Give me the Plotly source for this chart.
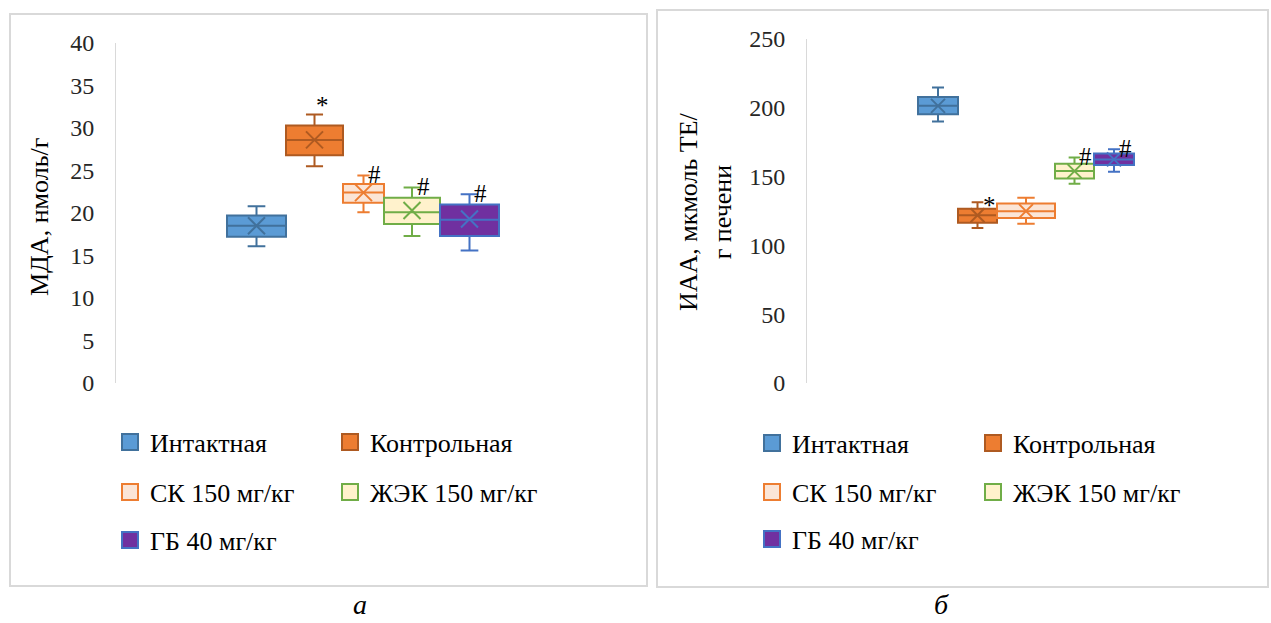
import plotly.graph_objects as go

W, H = 1271, 623
FONT = '"Liberation Serif", "Times New Roman", "DejaVu Serif", serif'

groups = ["Интактная", "Контрольная", "СК 150 мг/кг", "ЖЭК 150 мг/кг", "ГБ 40 мг/кг"]

# МДА, нмоль/г
mda_low = [16.1, 25.5, 20.1, 17.3, 15.6]
mda_q1 = [17.2, 26.8, 21.2, 18.7, 17.3]
mda_med = [18.5, 28.6, 22.4, 20.1, 19.2]
mda_q3 = [19.7, 30.3, 23.4, 21.8, 21.0]
mda_high = [20.8, 31.6, 24.4, 23.0, 22.2]
mda_mean = [18.5, 28.6, 22.4, 20.3, 19.3]
mda_sig = ["", "*", "#", "#", "#"]
mda_ticks = [0, 5, 10, 15, 20, 25, 30, 35, 40]

# ИАА, мкмоль ТЕ/г печени
iaa_low = [190.0, 112.7, 115.7, 144.8, 153.6]
iaa_q1 = [195.3, 116.4, 120.0, 148.7, 158.4]
iaa_med = [201.4, 121.9, 124.9, 154.0, 162.5]
iaa_q3 = [207.9, 126.6, 130.5, 159.4, 166.7]
iaa_high = [214.8, 131.4, 134.6, 163.8, 169.8]
iaa_mean = [201.4, 121.9, 124.9, 154.0, 162.5]
iaa_sig = ["", "*", "", "#", "#"]
iaa_ticks = [0, 50, 100, 150, 200, 250]

fills = ["#5B9BD5", "#ED7D31", "#FBE5D6", "#FFF2CC", "#7030A0"]
edges = ["#41719C", "#AE5A21", "#ED7D31", "#70AD47", "#4472C4"]


def px(x):
    return x / W


def py(y):
    return 1 - y / H


panels = [
    dict(xa="x", ya="y", xdom=(116, 640), ydom=(383, 43), span=524, start=111,
         widths=[59, 57, 41, 56, 59], xsize=17,
         low=mda_low, q1=mda_q1, med=mda_med, q3=mda_q3, high=mda_high,
         mean=mda_mean, sig=mda_sig, ticks=mda_ticks, yrange=[0, 40],
         legends=["legend", "legend2", "legend3"], legend_x=110,
         legend_rows=[442, 492, 540], entry=175, star_shift=(8, 9),
         title="МДА, нмоль/г", title_pos=(40, 217),
         frame=(10, 14, 647, 586), label="а", label_pos=(360, 622)),
    dict(xa="x2", ya="y2", xdom=(807, 1260), ydom=(383, 39), span=453, start=111,
         widths=[40, 39, 58, 39, 40], xsize=14,
         low=iaa_low, q1=iaa_q1, med=iaa_med, q3=iaa_q3, high=iaa_high,
         mean=iaa_mean, sig=iaa_sig, ticks=iaa_ticks, yrange=[0, 250],
         legends=["legend4", "legend5", "legend6"], legend_x=752,
         legend_rows=[443, 492, 539], entry=176, star_shift=(12, -3),
         title="ИАА, мкмоль ТЕ/<br>г печени", title_pos=(705, 212),
         frame=(657, 10, 1268, 587), label="б", label_pos=(942, 622)),
]

legend_rows = [[0, 1], [2, 3], [4]]

fig = go.Figure()
annotations = []
shapes = []
layout = {}

for pi, p in enumerate(panels):
    # adjacent boxes: centres follow from the box widths
    centres = []
    edge = p["start"]
    for w in p["widths"]:
        centres.append(edge + w / 2)
        edge += w

    for i, name in enumerate(groups):
        fig.add_trace(go.Box(
            x=[centres[i]], q1=[p["q1"][i]], median=[p["med"][i]], q3=[p["q3"][i]],
            lowerfence=[p["low"][i]], upperfence=[p["high"][i]],
            width=p["widths"][i], whiskerwidth=0.3, boxpoints=False,
            fillcolor=fills[i], line=dict(color=edges[i], width=2),
            xaxis=p["xa"], yaxis=p["ya"], showlegend=False, hoverinfo="skip",
        ))
        fig.add_trace(go.Scatter(
            x=[centres[i]], y=[p["mean"][i]], mode="markers",
            marker=dict(symbol="x-thin", size=p["xsize"], line=dict(width=2, color=edges[i])),
            xaxis=p["xa"], yaxis=p["ya"], showlegend=False, hoverinfo="skip",
        ))
        if p["sig"][i]:
            if p["sig"][i] == "*":
                dx, dy = p["star_shift"]
            else:
                dx, dy = 11, 1
            annotations.append(dict(
                x=centres[i], y=p["high"][i], xref=p["xa"], yref=p["ya"],
                text=p["sig"][i], showarrow=False, xanchor="center", yanchor="middle",
                xshift=dx, yshift=dy, font=dict(family=FONT, size=25, color="#000"),
            ))

    # legend entries, one legend per row
    for r, row in enumerate(legend_rows):
        lg = p["legends"][r]
        for i in row:
            fig.add_trace(go.Scatter(
                x=[None], y=[None], mode="markers", name=groups[i],
                marker=dict(symbol="square", size=16, color=fills[i],
                            line=dict(width=2, color=edges[i])),
                xaxis=p["xa"], yaxis=p["ya"], legend=lg, showlegend=True,
            ))
        layout[lg] = dict(
            x=px(p["legend_x"]), xanchor="left", y=py(p["legend_rows"][r]), yanchor="middle",
            orientation="h", entrywidth=p["entry"], entrywidthmode="pixels",
            font=dict(family=FONT, size=26, color="#000"), bgcolor="rgba(0,0,0,0)",
            borderwidth=0, tracegroupgap=0,
        )

    xkey = "xaxis" if p["xa"] == "x" else "xaxis2"
    ykey = "yaxis" if p["ya"] == "y" else "yaxis2"
    layout[xkey] = dict(
        domain=[px(p["xdom"][0]), px(p["xdom"][1])], range=[0, p["span"]],
        showgrid=False, zeroline=False, showticklabels=False, showline=False,
        anchor=p["ya"], fixedrange=True,
    )
    layout[ykey] = dict(
        domain=[py(p["ydom"][0]), py(p["ydom"][1])], range=p["yrange"],
        tickvals=p["ticks"], ticktext=[str(t) for t in p["ticks"]],
        showgrid=False, zeroline=False, showline=True, linecolor="#d9d9d9", linewidth=1,
        ticks="", ticklabelstandoff=16, anchor=p["xa"], fixedrange=True,
        tickfont=dict(family=FONT, size=24, color="#262626"),
    )

    annotations.append(dict(
        x=px(p["title_pos"][0]), y=py(p["title_pos"][1]), xref="paper", yref="paper",
        text=p["title"], textangle=-90, showarrow=False, xanchor="center", yanchor="middle",
        font=dict(family=FONT, size=26, color="#000"),
    ))
    annotations.append(dict(
        x=px(p["label_pos"][0]), y=py(p["label_pos"][1]), xref="paper", yref="paper",
        text="<i>" + p["label"] + "</i>", showarrow=False, xanchor="center", yanchor="bottom",
        font=dict(family=FONT, size=28, color="#000"),
    ))
    x0, y0, x1, y1 = p["frame"]
    shapes.append(dict(
        type="rect", xref="paper", yref="paper",
        x0=px(x0), x1=px(x1), y0=py(y1), y1=py(y0),
        line=dict(color="#d9d9d9", width=2), fillcolor="rgba(0,0,0,0)", layer="below",
    ))

fig.update_layout(
    width=W, height=H, margin=dict(l=0, r=0, t=0, b=0, autoexpand=False),
    paper_bgcolor="white", plot_bgcolor="white",
    font=dict(family=FONT),
    boxmode="overlay", annotations=annotations, shapes=shapes,
    **layout,
)

fig.write_html("out.html")
